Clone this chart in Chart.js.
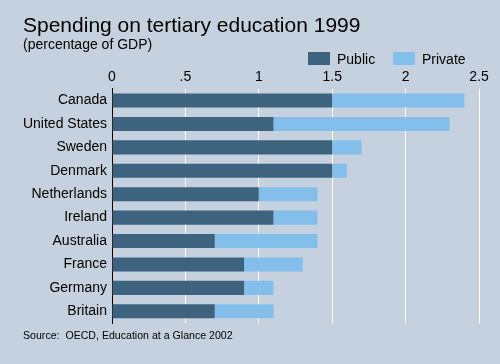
<!DOCTYPE html>
<html><head><meta charset="utf-8">
<script src="https://cdn.jsdelivr.net/npm/chart.js@4/dist/chart.umd.min.js"></script>
<style>html,body{margin:0;padding:0;background:#c5d1de;}#wrap{width:500px;height:364px;}</style>
</head><body><div id="wrap"><canvas id="c" width="500" height="364"></canvas></div>
<script>
const countries = ["Canada","United States","Sweden","Denmark","Netherlands","Ireland","Australia","France","Germany","Britain"];
const publicVals = [1.5, 1.1, 1.5, 1.5, 1.0, 1.1, 0.7, 0.9, 0.9, 0.7];
const privateVals = [0.9, 1.2, 0.2, 0.1, 0.4, 0.3, 0.7, 0.4, 0.2, 0.4];
const tickLabels = {0:"0",0.5:".5",1:"1",1.5:"1.5",2:"2",2.5:"2.5"};
const FONT = "'Liberation Sans', Arial, sans-serif";

const bgPlugin = {
  id:'bg',
  beforeDraw(chart){const c=chart.ctx;c.save();c.fillStyle='#c5d1de';c.fillRect(0,0,chart.width,chart.height);c.restore();},
  afterDraw(chart){const c=chart.ctx;c.save();c.fillStyle='#000';c.font="10.6px "+FONT;c.textBaseline='alphabetic';c.textAlign='left';
    c.fillText("Source:  OECD, Education at a Glance 2002",23,339);
    // legend
    const items=[{x:308,tx:337},{x:393,tx:422}];
    c.font="14px "+FONT;
    chart.data.datasets.forEach((ds,i)=>{
      c.fillStyle=ds.backgroundColor;c.fillRect(items[i].x,52,22,13);
      c.fillStyle='#000';c.fillText(ds.label,items[i].tx,63.5);
    });
    c.restore();}
};

new Chart(document.getElementById('c'),{
  type:'bar',
  data:{labels:countries,datasets:[
    {label:'Public',data:publicVals,backgroundColor:'#3d637e',categoryPercentage:0.6,barPercentage:1},
    {label:'Private',data:privateVals,backgroundColor:'#83bfea',categoryPercentage:0.6,barPercentage:1}
  ]},
  options:{
    indexAxis:'y',responsive:false,animation:false,devicePixelRatio:1,
    layout:{padding:{left:23,right:21,top:0,bottom:41}},
    plugins:{
      title:{display:true,text:'Spending on tertiary education 1999',align:'start',color:'#000',font:{family:FONT,size:21,weight:'normal'},padding:{top:14,bottom:0}},
      subtitle:{display:true,text:'(percentage of GDP)',align:'start',color:'#000',font:{family:FONT,size:14},padding:{top:-2,bottom:12}},
      legend:{display:false},
      tooltip:{enabled:false}
    },
    scales:{
      x:{position:'top',stacked:true,min:0,max:2.5,
        ticks:{stepSize:0.5,color:'#000',font:{family:FONT,size:14},padding:3,callback:(v)=>tickLabels[v]!==undefined?tickLabels[v]:''},
        grid:{color:'#ffffff',lineWidth:1,drawTicks:false},
        border:{display:false}},
      y:{stacked:true,
        ticks:{color:'#000',font:{family:FONT,size:14},padding:5},
        grid:{display:false,drawTicks:false},
        border:{display:true,color:'#000',width:1},
        afterFit(s){s.width=89;}}
    }
  },
  plugins:[bgPlugin]
});
</script></body></html>
